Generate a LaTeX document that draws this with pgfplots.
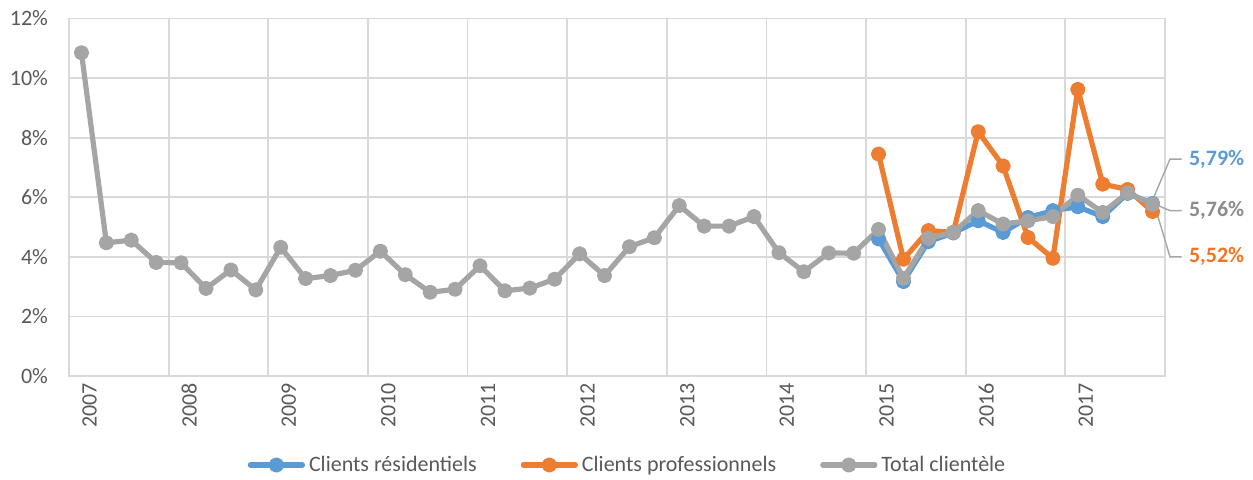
\documentclass[border=0pt]{standalone}
\usepackage{fontspec}
\setmainfont{Carlito}
\usepackage{pgfplots}
\pgfplotsset{compat=1.18}

\definecolor{serblue}{HTML}{5B9BD5}
\definecolor{serorange}{HTML}{ED7D31}
\definecolor{sergray}{HTML}{A5A5A5}
\definecolor{gridgray}{HTML}{D9D9D9}
\definecolor{txtgray}{HTML}{595959}
\definecolor{lblorange}{HTML}{F47321}
\definecolor{lblgray}{HTML}{8C8C8C}

\begin{document}
\begin{tikzpicture}
\begin{axis}[
    name=ax,
    at={(0,0)}, anchor=south west,
    width=548pt, height=178.75pt,
    scale only axis,
    clip=false,
    xmin=-0.5, xmax=43.5,
    ymin=0, ymax=12,
    ytick={0,2,...,12},
    yticklabel={\pgfmathprintnumber{\tick}\%},
    xtick={0,4,...,40},
    xticklabels={2007,2008,2009,2010,2011,2012,2013,2014,2015,2016,2017},
    minor xtick={3.5,7.5,...,39.5},
    xminorgrids=true,
    ymajorgrids=true,
    major tick length=0pt,
    minor tick length=0pt,
    grid style={draw=gridgray, line width=0.9pt},
    minor grid style={draw=gridgray, line width=0.9pt},
    axis line style={draw=gridgray, line width=0.9pt},
    /pgf/number format/assume math mode=true,
    tick label style={font=\fontsize{11}{13}\selectfont, text=txtgray},
    yticklabel style={xshift=-7pt},
    xticklabel style={rotate=90, anchor=east, yshift=-4pt},
    legend columns=3,
    legend cell align=left,
    legend style={
        at={(0.5105,-0.249)}, anchor=center,
        draw=none, fill=none,
        font=\fontsize{11}{13}\selectfont, text=txtgray,
        /tikz/every even column/.append style={column sep=20pt},
    },
    legend image code/.code={
        \draw[mark repeat=2, mark phase=2] plot coordinates {(0pt,0pt) (13pt,0pt) (26pt,0pt)};
    },
    every axis plot/.append style={line width=2.6pt, line join=round, line cap=round, mark=*, mark size=2.5pt},
]

% Clients residentiels
\addplot[color=serblue, mark options={fill=serblue, draw=serblue}] coordinates {
    (32,4.60) (33,3.17) (34,4.51) (35,4.80) (36,5.21) (37,4.82)
    (38,5.32) (39,5.55) (40,5.68) (41,5.35) (42,6.13) (43,5.79)
};
\addlegendentry{Clients résidentiels}

% Clients professionnels
\addplot[color=serorange, mark options={fill=serorange, draw=serorange}] coordinates {
    (32,7.45) (33,3.92) (34,4.88) (35,4.82) (36,8.20) (37,7.05)
    (38,4.65) (39,3.95) (40,9.62) (41,6.44) (42,6.26) (43,5.52)
};
\addlegendentry{Clients professionnels}

% Total clientele
\addplot[color=sergray, mark options={fill=sergray, draw=sergray}] coordinates {
    (0,10.85) (1,4.47) (2,4.56) (3,3.81) (4,3.80) (5,2.94) (6,3.56) (7,2.89)
    (8,4.32) (9,3.27) (10,3.37) (11,3.55) (12,4.19) (13,3.40) (14,2.81) (15,2.91)
    (16,3.70) (17,2.86) (18,2.95) (19,3.25) (20,4.10) (21,3.37) (22,4.34) (23,4.64)
    (24,5.72) (25,5.03) (26,5.03) (27,5.35) (28,4.14) (29,3.50) (30,4.13) (31,4.12)
    (32,4.92) (33,3.28) (34,4.62) (35,4.82) (36,5.55) (37,5.10) (38,5.21) (39,5.35)
    (40,6.07) (41,5.49) (42,6.15) (43,5.76)
};
\addlegendentry{Total clientèle}

% leader lines and end labels
\draw[sergray, line width=0.7pt] (axis cs:43.03,5.965) -- (axis cs:43.70,7.28) -- (axis cs:44.17,7.28);
\draw[sergray, line width=0.7pt] (axis cs:43.17,5.74) -- (axis cs:43.70,5.55) -- (axis cs:44.17,5.55);
\draw[sergray, line width=0.7pt] (axis cs:43.10,5.68) -- (axis cs:43.70,4.00) -- (axis cs:44.17,4.00);
\node[anchor=west, inner sep=0pt, text=serblue, font=\fontsize{11}{13}\selectfont\bfseries] at (axis cs:44.45,7.28) {5,79\%};
\node[anchor=west, inner sep=0pt, text=lblgray, font=\fontsize{11}{13}\selectfont\bfseries] at (axis cs:44.45,5.55) {5,76\%};
\node[anchor=west, inner sep=0pt, text=lblorange, font=\fontsize{11}{13}\selectfont\bfseries] at (axis cs:44.45,4.00) {5,52\%};
\end{axis}
\pgfresetboundingbox
\path ([shift={(-34.5pt,-52pt)}]ax.south west) rectangle ([shift={(592pt,188pt)}]ax.south west);
\end{tikzpicture}
\end{document}
